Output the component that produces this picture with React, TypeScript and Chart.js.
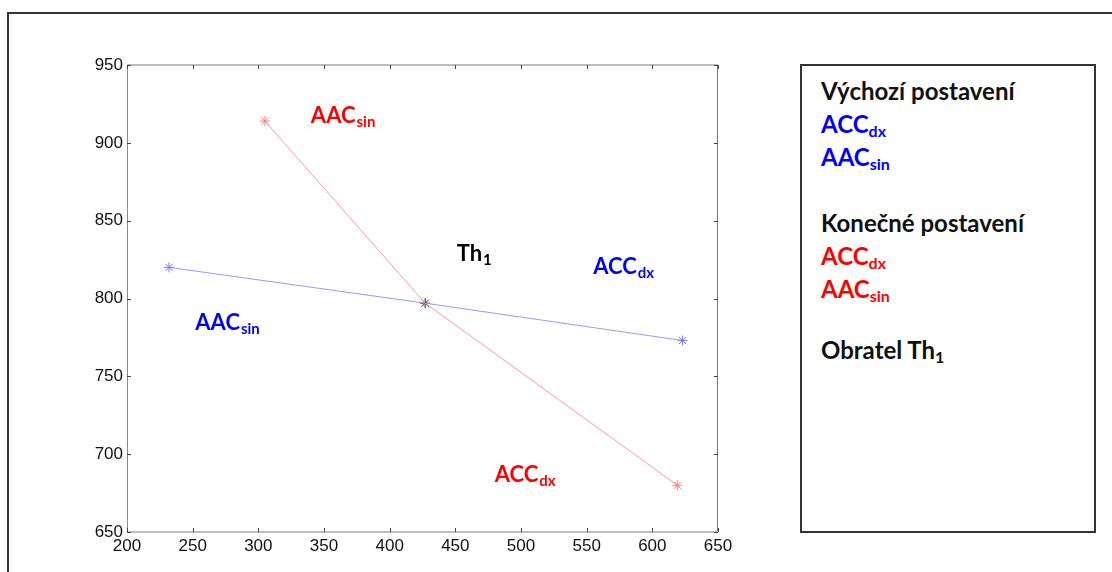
import React, { useEffect, useRef } from "react";
import { Chart, registerables } from "chart.js";

Chart.register(...registerables);

// Initial position (blue): AAC sin, Th1, ACC dx
const initialX = [232, 427, 623];
const initialY = [820, 797, 773];
// Final position (red): AAC sin, Th1, ACC dx
const finalX = [305, 427, 619];
const finalY = [914, 797, 680];
// Vertebra Th1
const th1X = [427];
const th1Y = [797];

const xTicks = [200, 250, 300, 350, 400, 450, 500, 550, 600, 650];
const yTicks = [650, 700, 750, 800, 850, 900, 950];

const labelMain = ["AAC", "Th", "ACC", "AAC", "ACC"];
const labelSub = ["sin", "1", "dx", "sin", "dx"];
const labelX = [340, 451, 555, 252, 480];
const labelY = [913, 824, 816, 780, 682];
const labelColor = ["#ff0000", "#000000", "#0000ff", "#0000ff", "#ff0000"];

const toPts = (xs: number[], ys: number[]) => xs.map((x, i) => ({ x, y: ys[i] }));

const boxPlugin = {
  id: "boxTicks",
  afterDatasetsDraw(chart: any) {
    const { ctx, chartArea: a, scales } = chart;
    const xs = scales.x;
    const ys = scales.y;
    ctx.save();
    // frame
    ctx.lineWidth = 1;
    ctx.strokeStyle = "#8a8a8a";
    ctx.beginPath();
    ctx.moveTo(a.left + 0.5, a.top);
    ctx.lineTo(a.left + 0.5, a.bottom);
    ctx.stroke();
    ctx.strokeStyle = "#7a7a7a";
    ctx.beginPath();
    ctx.moveTo(a.right - 0.5, a.top);
    ctx.lineTo(a.right - 0.5, a.bottom);
    ctx.stroke();
    ctx.lineWidth = 2;
    ctx.strokeStyle = "#bdbdbd";
    ctx.beginPath();
    ctx.moveTo(a.left, a.top);
    ctx.lineTo(a.right, a.top);
    ctx.moveTo(a.left, a.bottom);
    ctx.lineTo(a.right, a.bottom);
    ctx.stroke();
    // inward ticks
    ctx.lineWidth = 1;
    ctx.strokeStyle = "#444";
    ctx.beginPath();
    xTicks.forEach((v) => {
      const p = Math.round(xs.getPixelForValue(v)) + 0.5;
      ctx.moveTo(p, a.bottom);
      ctx.lineTo(p, a.bottom - 4);
      ctx.moveTo(p, a.top);
      ctx.lineTo(p, a.top + 4);
    });
    yTicks.forEach((v) => {
      const p = Math.round(ys.getPixelForValue(v)) + 0.5;
      ctx.moveTo(a.left, p);
      ctx.lineTo(a.left + 4, p);
      ctx.moveTo(a.right, p);
      ctx.lineTo(a.right - 4, p);
    });
    ctx.stroke();
    // annotations
    labelMain.forEach((m, i) => {
      const px = xs.getPixelForValue(labelX[i]);
      const py = ys.getPixelForValue(labelY[i]);
      ctx.fillStyle = labelColor[i];
      ctx.textBaseline = "alphabetic";
      ctx.textAlign = "left";
      ctx.font = "bold 22px Lato";
      ctx.fillText(m, px, py);
      const w = ctx.measureText(m).width;
      ctx.font = "bold 15px Lato";
      ctx.fillText(labelSub[i], px + w + 1, py + 4);
    });
    ctx.restore();
  },
};

function ChartView() {
  const ref = useRef<HTMLCanvasElement | null>(null);
  useEffect(() => {
    if (!ref.current) return;
    const chart = new Chart(ref.current, {
      type: "scatter",
      data: {
        datasets: [
          {
            data: toPts(initialX, initialY),
            showLine: true,
            borderColor: "#9a9aff",
            borderWidth: 1,
            pointStyle: "star",
            pointRadius: [5, 0, 5],
            pointBorderColor: "#7a7aff",
            pointBorderWidth: 1,
            pointBackgroundColor: "transparent",
          },
          {
            data: toPts(finalX, finalY),
            showLine: true,
            borderColor: "#ff9a9a",
            borderWidth: 1,
            pointStyle: "star",
            pointRadius: [5, 0, 5],
            pointBorderColor: "#ff7a7a",
            pointBorderWidth: 1,
            pointBackgroundColor: "transparent",
          },
          {
            data: toPts(th1X, th1Y),
            showLine: false,
            pointStyle: "star",
            pointRadius: 5,
            pointBorderColor: "#222",
            pointBorderWidth: 1,
          },
        ],
      },
      options: {
        animation: false,
        responsive: true,
        maintainAspectRatio: false,
        layout: { padding: { left: 77, top: 65, right: 42, bottom: 10 } },
        plugins: { legend: { display: false }, tooltip: { enabled: false } },
        scales: {
          x: {
            type: "linear",
            min: 200,
            max: 650,
            grid: { display: false, drawTicks: false },
            border: { display: false },
            afterBuildTicks: (s: any) => {
              s.ticks = xTicks.map((v) => ({ value: v }));
            },
            afterFit: (s: any) => {
              s.height = 30;
            },
            ticks: {
              padding: 4,
              color: "#111",
              font: { family: "Liberation Sans", size: 17 },
            },
          },
          y: {
            type: "linear",
            min: 650,
            max: 950,
            grid: { display: false, drawTicks: false },
            border: { display: false },
            afterBuildTicks: (s: any) => {
              s.ticks = yTicks.map((v) => ({ value: v }));
            },
            afterFit: (s: any) => {
              s.width = 50;
            },
            ticks: {
              padding: 4,
              color: "#111",
              font: { family: "Liberation Sans", size: 17 },
            },
          },
        },
      },
      plugins: [boxPlugin],
    });
    return () => chart.destroy();
  }, []);
  return <canvas ref={ref} />;
}

const legendLine: React.CSSProperties = { height: 33, whiteSpace: "nowrap" };
const subStyle: React.CSSProperties = { fontSize: 16, verticalAlign: "-4px", lineHeight: 0 };

export default function App() {
  return (
    <div
      style={{
        position: "fixed",
        left: 0,
        top: 0,
        width: 1112,
        height: 572,
        overflow: "hidden",
        background: "#fff",
      }}
    >
      <div
        style={{
          position: "absolute",
          left: 7,
          top: 12,
          width: 1300,
          height: 800,
          borderLeft: "2px solid #333",
          borderTop: "2px solid #333",
        }}
      />
      <div style={{ position: "absolute", left: 0, top: 0, width: 760, height: 572 }}>
        <ChartView />
      </div>
      <div
        style={{
          position: "absolute",
          left: 800,
          top: 64,
          width: 296,
          height: 469,
          boxSizing: "border-box",
          border: "2px solid #333",
          padding: "8px 0 0 19px",
          fontFamily: "Lato",
          fontWeight: "bold",
          fontSize: 24,
          lineHeight: "33px",
          color: "#111",
        }}
      >
        <div style={legendLine}>Výchozí postavení</div>
        <div style={{ ...legendLine, color: "#0000ff" }}>
          ACC<span style={subStyle}>dx</span>
        </div>
        <div style={{ ...legendLine, color: "#0000ff" }}>
          AAC<span style={subStyle}>sin</span>
        </div>
        <div style={{ height: 33 }} />
        <div style={legendLine}>Konečné postavení</div>
        <div style={{ ...legendLine, color: "#ff0000" }}>
          ACC<span style={subStyle}>dx</span>
        </div>
        <div style={{ ...legendLine, color: "#ff0000" }}>
          AAC<span style={subStyle}>sin</span>
        </div>
        <div style={{ height: 28 }} />
        <div style={legendLine}>
          Obratel Th<span style={subStyle}>1</span>
        </div>
      </div>
    </div>
  );
}
